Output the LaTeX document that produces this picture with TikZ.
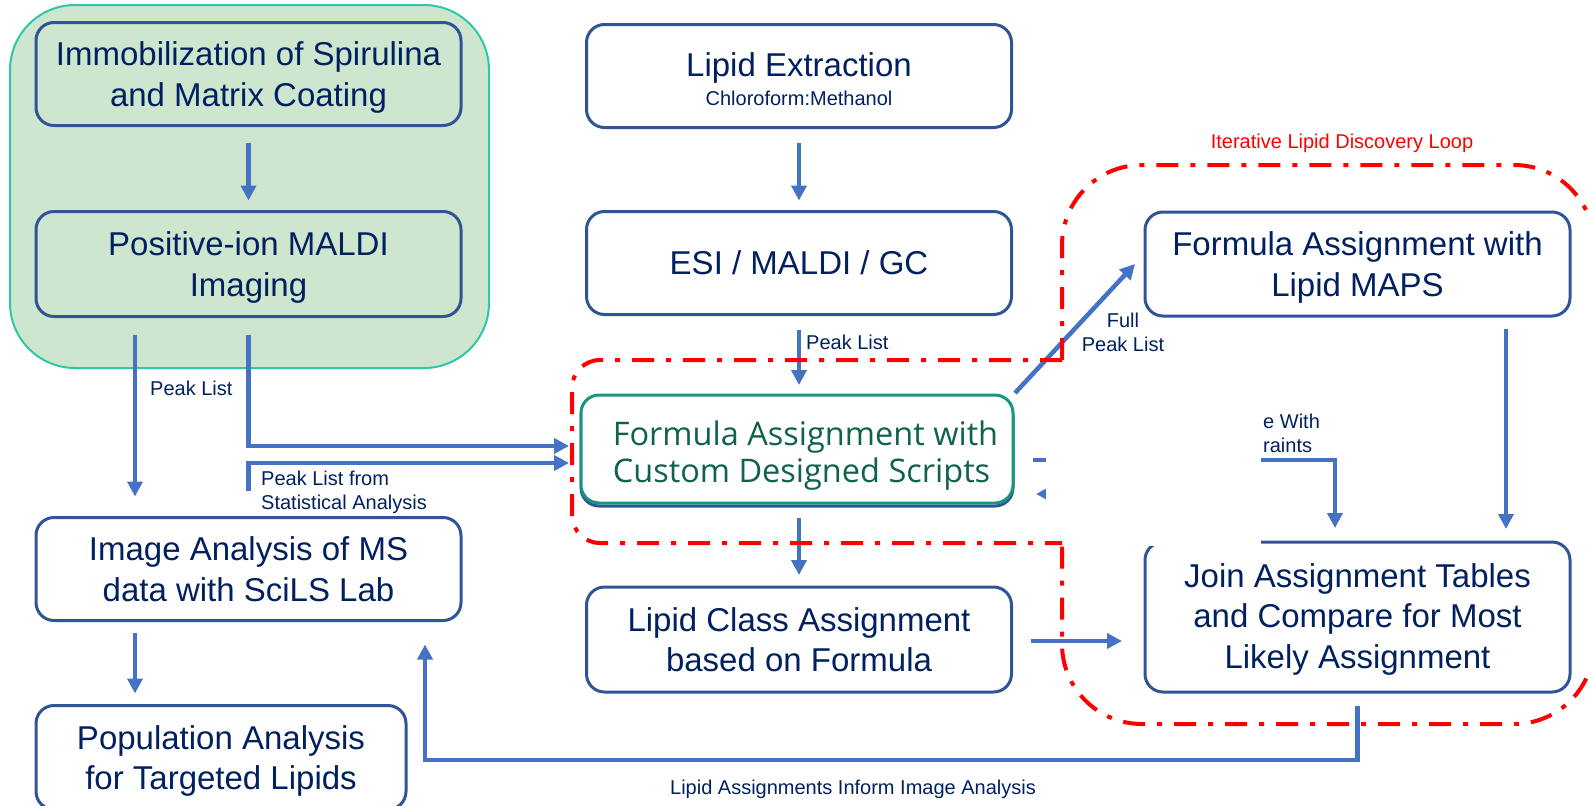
\documentclass[tikz,border=0pt]{standalone}
\usepackage{fontspec}
\setmainfont{Liberation Sans}
\newfontfamily\cdsfont{Open Sans}
\usetikzlibrary{positioning,calc,arrows.meta,backgrounds}
\definecolor{boxblue}{RGB}{47,85,151}
\definecolor{flowblue}{RGB}{68,114,196}
\definecolor{textnavy}{RGB}{0,32,96}
\definecolor{mintfill}{RGB}{205,230,205}
\definecolor{mintline}{RGB}{45,200,168}
\definecolor{tealline}{RGB}{22,150,128}
\definecolor{tealtext}{RGB}{15,98,78}
\newcommand{\lineup}[1]{\rule{0pt}{#1pt}}
\tikzset{
box/.style={draw=boxblue,line width=3pt,rounded corners=18pt,text=textnavy,align=center,
font=\fontsize{33}{40.5}\selectfont,minimum width=425pt,minimum height=103pt,inner sep=0pt,outer sep=0pt},
cdsbox/.style={draw=tealline,fill=white,line width=3pt,rounded corners=18pt,text=tealtext,align=left,
font=\cdsfont\fontsize{32.5}{37.5}\selectfont,minimum width=432pt,minimum height=108pt,inner sep=0pt,outer sep=0pt},
region/.style={draw=mintline,fill=mintfill,line width=2pt,rounded corners=65pt},
flow/.style={-{Triangle[length=15pt,width=15pt]},line width=4.5pt,flowblue},
lab/.style={text=textnavy,font=\fontsize{20}{24}\selectfont,inner sep=0pt},
loopline/.style={red,line width=4pt,dash pattern=on 22pt off 12pt on 5pt off 12pt}
}
\begin{document}
\begin{tikzpicture}[x=1pt,y=-1pt]
\useasboundingbox (0,0) rectangle (1588,806);
\clip (0,0) rectangle (1588,806);

% imaging column
\node[box] (immob) at (248.5,74) {\lineup{31}Immobilization of Spirulina\\and Matrix Coating};
\node[box,minimum height=105pt,below=86pt of immob] (maldi) {\lineup{31}Positive-ion MALDI\\Imaging};
\node[box,below=201pt of maldi] (scils) {Image Analysis of MS\\data with SciLS Lab};
\node[box,minimum width=370pt,minimum height=104pt,below=85pt of scils.south west,anchor=north west] (popul) {\lineup{31}Population Analysis\\for Targeted Lipids};
\begin{scope}[on background layer]
\draw[region] (10,5) rectangle (489,368);
\end{scope}

% extraction column
\node[box,font=\fontsize{33}{29}\selectfont] (lipext) at (799,76) {\lineup{30}Lipid Extraction\\{\fontsize{20}{29}\selectfont Chloroform:Methanol}};
\node[box,below=84pt of lipext] (esi) {ESI / MALDI / GC};
\node[cdsbox] (cds) at (797,449) {\lineup{38}\hspace*{17pt}Formula Assignment with\\\hspace*{17pt}Custom Designed Scripts};
\begin{scope}[on background layer]
\draw[boxblue,line width=3pt,rounded corners=18pt] ([yshift=-3pt]cds.south west) rectangle ([yshift=-3pt]cds.north east);
\end{scope}
\node[box,minimum height=105pt] (lclass) at (799,639.5) {Lipid Class Assignment\\based on Formula};

% database column
\node[box,minimum height=104pt] (maps) at (1357.5,264) {\lineup{31}Formula Assignment with\\Lipid MAPS};
\node[box,minimum height=150pt] (join) at (1357.5,617) {\lineup{28}Join Assignment Tables\\and Compare for Most\\Likely Assignment};

% arrows
\draw[flow,shorten <=17pt,shorten >=11pt] (immob) -- (maldi);
\draw[flow,shorten <=18pt,shorten >=21pt] ([xshift=-113.5pt]maldi.south) -- ([xshift=-113.5pt]scils.north);
\draw[flow,shorten >=12pt] ([yshift=-18pt]maldi.south) |- ([yshift=3pt]cds.west);
\coordinate (stat) at (248.5,491);
\draw[flow,shorten >=12pt] (stat) |- ([yshift=-14pt]cds.west);
\draw[flow,shorten <=12pt,shorten >=12pt] ([xshift=-113.5pt]scils.south) -- ([xshift=-113.5pt]popul.north -| scils.south);
\draw[flow,shorten <=15pt,shorten >=11pt] (lipext) -- (esi);
\draw[flow,shorten <=15pt,shorten >=10pt] (esi.south) -- (esi.south |- cds.north);
\draw[flow,shorten <=15pt,shorten >=12pt] (lclass.north |- cds.south) -- (lclass.north);
\draw[flow] ([shift={(2pt,2pt)}]cds.north east) -- ([xshift=-10pt]maps.west);
\draw[flow,shorten <=13pt,shorten >=13pt] ([xshift=148.5pt]maps.south) -- ([xshift=148.5pt]join.north);
\coordinate (cls) at ([xshift=19pt,yshift=-1.5pt]lclass.east);
\draw[flow,shorten >=23pt] (cls) -- (cls -| join.west);
\draw[flow,shorten >=14pt] ([shift={(20pt,-11pt)}]cds.east) -| ([xshift=-22.5pt]join.north);
\coordinate (back) at (1120,494);
\draw[flow,shorten >=23pt] (back) -- (back -| cds.east);
\draw[flow] ([yshift=-14pt]join.south) -- ++(0,54) -| ([shift={(-36pt,-24pt)}]scils.south east);

% blank strip between the two loops
\fill[white] (1046,366) rectangle (1261,546);

% discovery loop outline
\draw[loopline,rounded corners=28pt] (1062,360) -- (572,360) -- (572,543) -- (1062,543);
\draw[loopline,rounded corners=80pt] (1062,360) -- (1062,165) -- (1594,165) -- (1594,724) -- (1062,724) -- (1062,543);
\node[lab,text=red] (looplab) at (1342,143) {Iterative Lipid Discovery Loop};

% connector labels
\node[lab,anchor=west] (pl1) at (150,388) {Peak List};
\node[lab,anchor=west,align=left] (pl2) at (261,492) {Peak List from\\Statistical Analysis};
\node[lab,anchor=west] (pl3) at (806,342) {Peak List};
\node[lab,align=center] (fpl) at (1123,332) {Full\\Peak List};
\node[lab,anchor=west,align=left] (cwl) at (1263,433) {e With\\raints};
\node[lab] (inform) at (853,789) {Lipid Assignments Inform Image Analysis};
\end{tikzpicture}
\end{document}
